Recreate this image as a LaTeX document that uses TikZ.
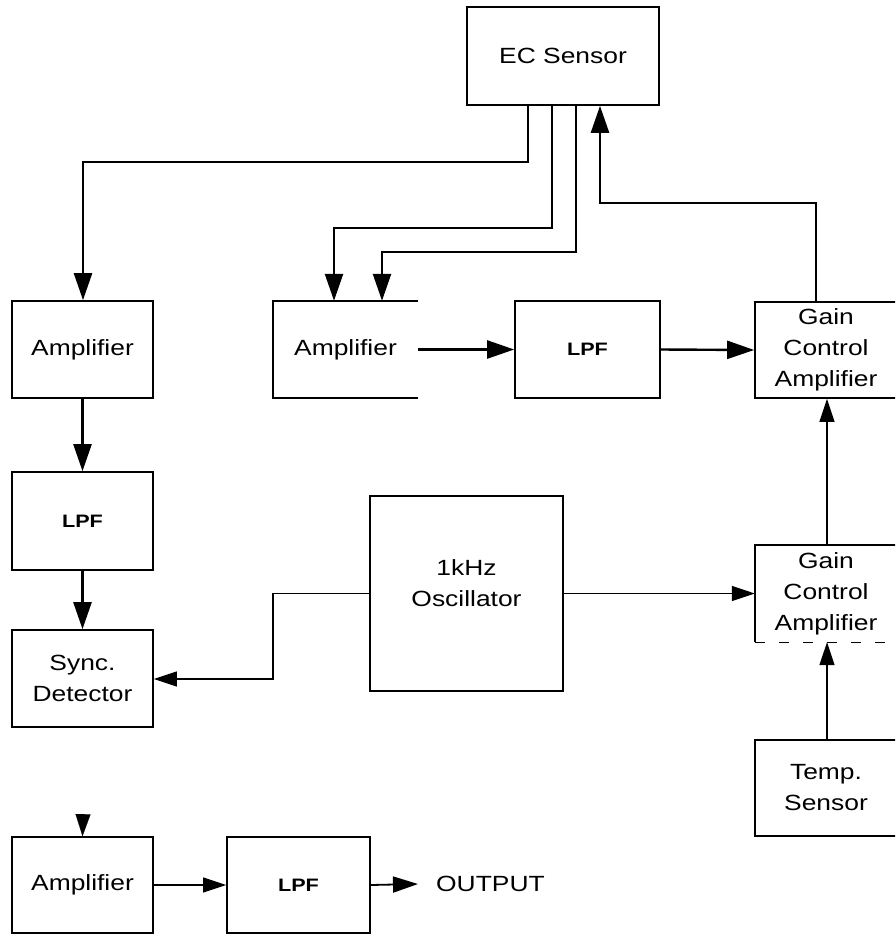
\documentclass[tikz,border=0pt]{standalone}
\usepackage{fontspec}
\setmainfont{Liberation Sans}[FakeStretch=1.2]
\usetikzlibrary{arrows.meta}
\newcommand\lpfstyle{\fontsize{18}{22}\selectfont\bfseries}
\tikzset{
  box/.style={draw, line width=1.7pt, rectangle, inner sep=0pt, align=center,
              font=\fontsize{22}{31}\selectfont},
  plain/.style={rectangle, inner sep=0pt, align=center, font=\fontsize{22}{31}\selectfont},
  edge line/.style={line width=1.7pt},
  thick wire/.style={line width=2.4pt, -{Triangle[length=27pt,width=18pt]}},
  thin wire/.style={line width=1.3pt, -{Triangle[length=23pt,width=15pt]}},
  bare tip/.style={line width=0.1pt, -{Triangle[length=22pt,width=15pt]}},
}
\begin{document}
\begin{tikzpicture}[x=1pt,y=-1pt]
\useasboundingbox (0,0) rectangle (895,935);
\clip (0,0) rectangle (895,935);

% ---- blocks ----
\node[box, minimum width=192pt, minimum height=98pt] (ec) at (563,56) {EC Sensor};

\node[box, minimum width=141pt, minimum height=97pt] (amp1) at (82.5,349.5) {Amplifier};
\node[plain, minimum width=145pt, minimum height=97pt] (amp2) at (345.5,349.5) {Amplifier};
\draw[edge line] (amp2.north east) -- (amp2.north west) -- (amp2.south west) -- (amp2.south east);
\node[box, minimum width=145pt, minimum height=97pt] (lpf2) at (587.5,349.5) {\lpfstyle LPF};
\node[box, minimum width=142pt, minimum height=96pt] (gca1) at (826,350) {Gain\\Control\\Amplifier};

\node[box, minimum width=141pt, minimum height=98pt] (lpf1) at (82.5,521) {\lpfstyle LPF};
\node[box, minimum width=141pt, minimum height=97pt] (sync) at (82.5,678.5) {Sync.\\Detector};

\node[box, minimum width=193pt, minimum height=195pt] (osc) at (466.5,593.5) {};
\node[plain] (osclabel) at (466.5,583) {1kHz\\Oscillator};

\node[plain, minimum width=142pt, minimum height=97pt] (gca2) at (826,593.5) {Gain\\Control\\Amplifier};
\draw[edge line] (gca2.south west) -- (gca2.north west) -- (gca2.north east);
\draw[line width=1.3pt, dash pattern=on 10pt off 14pt] (gca2.south west) -- (gca2.south east);
\node[box, minimum width=142pt, minimum height=96pt] (temp) at (826,788) {Temp.\\Sensor};

\node[box, minimum width=141pt, minimum height=96pt] (amp3) at (82.5,885) {Amplifier};
\node[box, minimum width=143pt, minimum height=96pt] (lpf3) at (298.5,885) {\lpfstyle LPF};
\node[plain, anchor=west, font=\fontsize{22}{26}\selectfont] (out) at (436,884) {OUTPUT};

% ---- connectors from the sensor ----
\draw[thick wire] ([xshift=-35pt]ec.south) |- (83,162) -- (amp1.north -| 83,0);
\draw[thick wire] ([xshift=-11pt]ec.south) |- (334,228) -- (amp2.north -| 334,0);
\draw[thick wire] ([xshift=13pt]ec.south) |- (382,252) -- (amp2.north -| 382,0);
\draw[thick wire] (gca1.north -| 816,0) |- (600,203) -- (ec.south -| 600,0);

% ---- upper signal chain ----
\draw[thick wire] (amp2.east) -- (lpf2.west);
\draw[thick wire] (lpf2.east) -- (gca1.west);

% ---- left column ----
\draw[thick wire] (amp1.south) -- (lpf1.north);
\draw[thick wire] (lpf1.south) -- (sync.north);

% ---- oscillator outputs ----
\draw[thin wire] (osc.west) -| (273,679) -- (sync.east |- 0,679);
\draw[thin wire] (osc.east) -- (gca2.west |- osc.east);

% ---- gain control chain ----
\draw[thin wire] (gca2.north -| 827,0) -- (gca1.south -| 827,0);
\draw[thin wire] (temp.north -| 827,0) -- (gca2.south -| 827,0);

% ---- output chain ----
\coordinate (in3) at (83,815);
\draw[bare tip] (in3) -- (amp3.north);
\draw[thin wire] (amp3.east) -- (lpf3.west);
\draw[line width=1.8pt, -{Triangle[length=25pt,width=16pt]}] (lpf3.east) -- ([xshift=-18pt]out.west);
\end{tikzpicture}
\end{document}
